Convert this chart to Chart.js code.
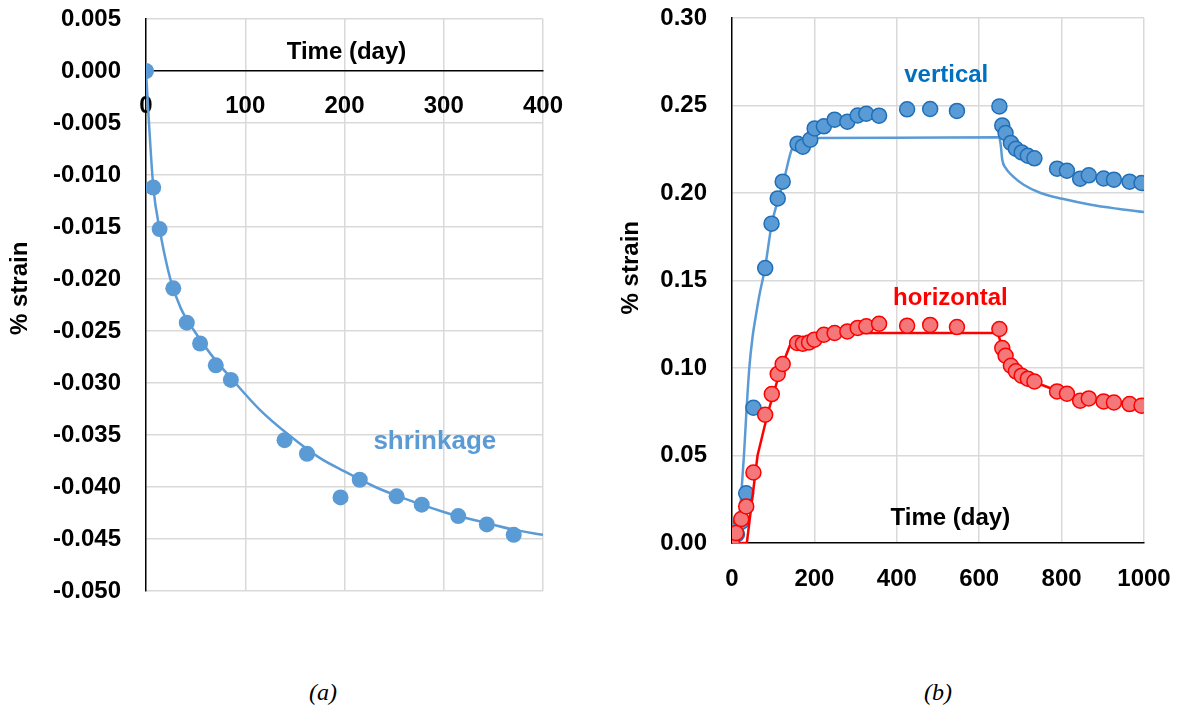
<!DOCTYPE html>
<html>
<head>
<meta charset="utf-8">
<script src="https://cdn.jsdelivr.net/npm/chart.js@4.4.1/dist/chart.umd.min.js"></script>
<style>
  body { margin: 0; background: #fff; width: 1182px; height: 711px; position: relative; overflow: hidden; }
  #left { position: absolute; left: 0; top: 0; }
  #right { position: absolute; left: 590px; top: 0; }
  .cap { position: absolute; font: italic 24px "Liberation Serif", "Times New Roman", serif; transform: translate(-50%, -50%); }
</style>
</head>
<body>
<canvas id="left" width="590" height="640"></canvas>
<canvas id="right" width="592" height="640"></canvas>
<div class="cap" style="left:323px; top:692px;">(a)</div>
<div class="cap" style="left:938px; top:692px;">(b)</div>
<script>
// (a) shrinkage - measured
const shrinkDays = [0, 7.3, 13.7, 27.5, 41.1, 54.5, 70.3, 85.5, 139.6, 162.2, 196, 215.4, 252.5, 277.8, 314.6, 343.4, 370.5];
const shrinkStrain = [0, -0.0112, -0.0152, -0.0209, -0.0242, -0.0262, -0.0283, -0.0297, -0.0355, -0.0368, -0.0410, -0.0393, -0.0409, -0.0417, -0.0428, -0.0436, -0.0446];
// (a) shrinkage - model curve
const shrinkFitDays = [0, 3, 7.4, 13.7, 24.5, 35, 48.7, 65, 90, 115, 144, 175, 200, 231, 260, 300, 340, 370, 400];
const shrinkFitStrain = [0, -0.005, -0.0112, -0.0152, -0.0200, -0.0228, -0.0250, -0.0272, -0.0300, -0.0326, -0.0350, -0.0372, -0.0385, -0.0400, -0.0411, -0.0424, -0.0434, -0.0441, -0.0446];

// (b) vertical - measured
const vertDays = [0, 12, 22, 34.5, 52, 80.6, 96, 111, 123, 159, 172, 190, 200.6, 223, 249, 280, 305, 326, 357, 425, 481, 546, 649, 656, 664, 677, 689, 703, 718, 734, 789, 813, 845, 866, 902, 927, 965, 994];
const vertStrain = [0, 0.005, 0.012, 0.0284, 0.0773, 0.1571, 0.1825, 0.1969, 0.2065, 0.2282, 0.2265, 0.2305, 0.2369, 0.2381, 0.2419, 0.2407, 0.2443, 0.2453, 0.2442, 0.2478, 0.2480, 0.2469, 0.2495, 0.2386, 0.2343, 0.2286, 0.2253, 0.2232, 0.2213, 0.2198, 0.2139, 0.2127, 0.2082, 0.2101, 0.2083, 0.2076, 0.2065, 0.2057];
// (b) vertical - model curve
const vertFitDays = [0, 14, 20, 24, 29, 35, 42, 50, 58, 66, 80, 96.5, 113, 125, 145, 165, 202, 400, 648, 652, 656, 664, 684, 708, 749, 802, 871, 936, 1000];
const vertFitStrain = [0, 0.006, 0.020, 0.033, 0.050, 0.075, 0.100, 0.118, 0.130, 0.141, 0.157, 0.1823, 0.1971, 0.2066, 0.2248, 0.2295, 0.2314, 0.2316, 0.2318, 0.228, 0.219, 0.2143, 0.2091, 0.2047, 0.2000, 0.1967, 0.1933, 0.1910, 0.1891];

// (b) horizontal - measured
const horizDays = [0, 10, 22.5, 34.5, 52, 80.5, 96.6, 111, 123, 158, 172, 187, 200, 223, 249, 280, 305, 326, 357, 425, 481, 546, 649, 656, 664, 677, 689, 703, 718, 734, 789, 813, 845, 866, 902, 927, 965, 994];
const horizStrain = [0, 0.0057, 0.0137, 0.0209, 0.0403, 0.0733, 0.0851, 0.0966, 0.1023, 0.1143, 0.1139, 0.1146, 0.1162, 0.1190, 0.1200, 0.1209, 0.1229, 0.1238, 0.1253, 0.1242, 0.1246, 0.1234, 0.1223, 0.1114, 0.1070, 0.1013, 0.0981, 0.0956, 0.0939, 0.0923, 0.0866, 0.0853, 0.0813, 0.0826, 0.0809, 0.0803, 0.0794, 0.0785];
// (b) horizontal - model curve
const horizFitDays = [0, 36, 62, 87, 119, 143, 165, 200, 250, 300, 645, 656, 664, 677, 689, 703, 718, 734, 789, 813, 845, 866, 902, 927, 965, 1000];
const horizFitStrain = [0, 0, 0.050, 0.0743, 0.100, 0.1143, 0.117, 0.1185, 0.1195, 0.120, 0.120, 0.112, 0.107, 0.101, 0.098, 0.0955, 0.094, 0.092, 0.087, 0.085, 0.0825, 0.0818, 0.081, 0.0803, 0.0793, 0.0783];

// tick values
const leftXTicks = [0, 100, 200, 300, 400];
const leftYTicks = [0.005, 0, -0.005, -0.010, -0.015, -0.020, -0.025, -0.030, -0.035, -0.040, -0.045, -0.050];
const rightXTicks = [0, 200, 400, 600, 800, 1000];
const rightYTicks = [0, 0.05, 0.10, 0.15, 0.20, 0.25, 0.30];

const FONT = '"Liberation Sans", Arial, sans-serif';
const GRID = '#D9D9D9';
const LIGHTBLUE = '#5B9BD5';

function pts(xs, ys) {
  return xs.map((x, i) => ({ x: x, y: ys[i] }));
}
function fixTicks(list) {
  return scale => { scale.ticks = list.map(v => ({ value: v })); };
}
function gridColor(ctx) {
  return Math.abs(ctx.tick.value) < 1e-9 ? 'rgba(0,0,0,0)' : GRID;
}
// fixed y axis width, and no extra tick padding on top/bottom
function yFit(w) {
  return scale => {
    scale.width = w;
    scale.paddingTop = 0;
    scale.paddingBottom = 0;
  };
}
// x axis: optional fixed height, no extra side padding
function xFit(h) {
  return scale => {
    if (h) scale.height = h;
    scale.paddingLeft = 0;
    scale.paddingRight = 0;
  };
}

// draws in-plot texts and the y axis title
const notes = {
  id: 'notes',
  afterDraw(chart, args, opts) {
    const ctx = chart.ctx;
    const sx = chart.scales.x, sy = chart.scales.y;
    ctx.save();
    opts.items.forEach(it => {
      ctx.font = 'bold ' + (it.size || 24) + 'px ' + FONT;
      ctx.fillStyle = it.color || '#000';
      ctx.textAlign = 'center';
      ctx.textBaseline = 'middle';
      const x = it.px !== undefined ? it.px : sx.getPixelForValue(it.x);
      const y = sy.getPixelForValue(it.y);
      if (it.rotate) {
        ctx.save();
        ctx.translate(x, y);
        ctx.rotate(-Math.PI / 2);
        ctx.fillText(it.text, 0, 0);
        ctx.restore();
      } else {
        ctx.fillText(it.text, x, y);
      }
    });
    ctx.restore();
  }
};

const tickFont = { family: FONT, size: 24, weight: 'bold' };

new Chart(document.getElementById('left'), {
  type: 'scatter',
  data: {
    datasets: [
      {
        data: pts(shrinkDays, shrinkStrain),
        backgroundColor: LIGHTBLUE,
        borderWidth: 0,
        pointRadius: 8
      },
      {
        data: pts(shrinkFitDays, shrinkFitStrain),
        showLine: true,
        borderColor: LIGHTBLUE,
        borderWidth: 2.5,
        pointRadius: 0,
        cubicInterpolationMode: 'monotone'
      }
    ]
  },
  options: {
    responsive: false,
    animation: false,
    layout: { padding: { left: 0, top: 19, right: 47, bottom: 49 } },
    plugins: {
      legend: { display: false },
      tooltip: { enabled: false },
      notes: {
        items: [
          { text: 'Time (day)', x: 202, y: 0.0018 },
          { text: 'shrinkage', x: 291, y: -0.0357, color: LIGHTBLUE, size: 26 },
          { text: '% strain', px: 20, y: -0.0209, rotate: true }
        ]
      }
    },
    scales: {
      x: {
        type: 'linear',
        position: { y: 0 },
        min: 0,
        max: 400,
        afterBuildTicks: fixTicks(leftXTicks),
        afterFit: xFit(0),
        grid: { color: gridColor, lineWidth: 1.5, drawTicks: false },
        border: { color: '#000', width: 1.5 },
        ticks: { font: tickFont, color: '#000', padding: 21, maxRotation: 0, callback: v => String(v) }
      },
      y: {
        min: -0.05,
        max: 0.005,
        afterBuildTicks: fixTicks(leftYTicks),
        afterFit: yFit(146),
        grid: { color: gridColor, lineWidth: 1.5, drawTicks: false },
        border: { color: '#000', width: 1.5 },
        ticks: {
          font: tickFont,
          color: '#000',
          padding: 25,
          callback: v => v.toFixed(3)
        }
      }
    }
  },
  plugins: [notes]
});

new Chart(document.getElementById('right'), {
  type: 'scatter',
  data: {
    datasets: [
      {
        data: pts(horizDays, horizStrain),
        backgroundColor: '#F4787A',
        borderColor: '#FF0000',
        borderWidth: 1.5,
        pointRadius: 7.5
      },
      {
        data: pts(horizFitDays, horizFitStrain),
        showLine: true,
        borderColor: '#FF0000',
        borderWidth: 2.5,
        pointRadius: 0
      },
      {
        data: pts(vertDays, vertStrain),
        backgroundColor: LIGHTBLUE,
        borderColor: '#1F6FB8',
        borderWidth: 1.5,
        pointRadius: 7.5
      },
      {
        data: pts(vertFitDays, vertFitStrain),
        showLine: true,
        borderColor: LIGHTBLUE,
        borderWidth: 2.5,
        pointRadius: 0,
        cubicInterpolationMode: 'monotone'
      }
    ]
  },
  options: {
    responsive: false,
    animation: false,
    layout: { padding: { left: 0, top: 18, right: 38, bottom: 0 } },
    plugins: {
      legend: { display: false },
      tooltip: { enabled: false },
      notes: {
        items: [
          { text: 'Time (day)', x: 530, y: 0.0139 },
          { text: 'vertical', x: 520, y: 0.267, color: '#0070C0' },
          { text: 'horizontal', x: 530, y: 0.140, color: '#FF0000' },
          { text: '% strain', px: 41, y: 0.1573, rotate: true }
        ]
      }
    },
    scales: {
      x: {
        type: 'linear',
        position: 'bottom',
        min: 0,
        max: 1000,
        afterBuildTicks: fixTicks(rightXTicks),
        afterFit: xFit(97),
        grid: { color: gridColor, lineWidth: 1.5, drawTicks: false },
        border: { color: '#000', width: 1.5 },
        ticks: { font: tickFont, color: '#000', padding: 22, maxRotation: 0, callback: v => String(v) }
      },
      y: {
        min: 0,
        max: 0.30,
        afterBuildTicks: fixTicks(rightYTicks),
        afterFit: yFit(142),
        grid: { color: gridColor, lineWidth: 1.5, drawTicks: false },
        border: { color: '#000', width: 1.5 },
        ticks: {
          font: tickFont,
          color: '#000',
          padding: 25,
          callback: v => v.toFixed(2)
        }
      }
    }
  },
  plugins: [notes]
});
</script>
</body>
</html>
